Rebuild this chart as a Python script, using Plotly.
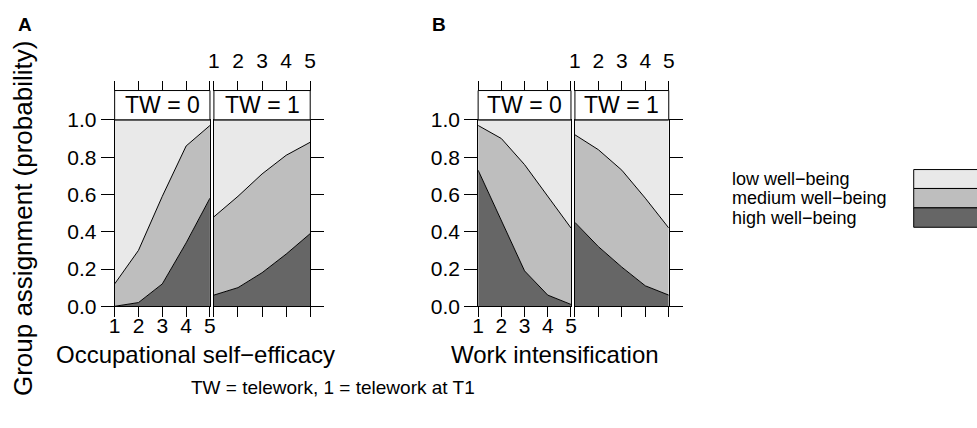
import plotly.graph_objects as go

W, H = 977, 428

# ---------------- data ----------------
x_vals = [1, 2, 3, 4, 5]
x_tick_labels = ["1", "2", "3", "4", "5"]
y_tick_vals = [0.0, 0.2, 0.4, 0.6, 0.8, 1.0]
y_tick_labels = ["0.0", "0.2", "0.4", "0.6", "0.8", "1.0"]

strip_labels = ["TW = 0", "TW = 1"]
x_titles = ["Occupational self\u2212efficacy", "Work intensification"]
panel_letters = ["A", "B"]
legend_labels = ["low well\u2212being", "medium well\u2212being", "high well\u2212being"]
caption = "TW = telework, 1 = telework at T1"
y_title = "Group assignment (probability)"

# probabilities of high / medium well-being (low = remainder)
a_tw0_high = [0.00, 0.02, 0.12, 0.34, 0.58]
a_tw0_medium = [0.12, 0.28, 0.47, 0.52, 0.39]
a_tw1_high = [0.06, 0.10, 0.18, 0.28, 0.39]
a_tw1_medium = [0.42, 0.49, 0.53, 0.53, 0.49]
b_tw0_high = [0.73, 0.46, 0.19, 0.06, 0.01]
b_tw0_medium = [0.24, 0.44, 0.57, 0.53, 0.41]
b_tw1_high = [0.45, 0.32, 0.21, 0.11, 0.06]
b_tw1_medium = [0.47, 0.52, 0.52, 0.47, 0.36]

# ---------------- style ----------------
FONT = "Liberation Sans, Arial, sans-serif"
C_LOW, C_MED, C_HIGH = "#E9E9E9", "#BEBEBE", "#666666"
TICK_FS, STRIP_FS, CAP_FS, KEY_FS = 21, 23, 19, 18
TITLE_FS = [24, 24]
YTITLE_FS = 26

def fx(px):
    return px / W

def fy(py):
    return 1 - py / H

panel_x = [(110.0, 206.5), (210.5, 308.0), (478.0, 572.0), (576.0, 671.0)]
Y_TOP, Y_BOT = 114.0, 311.0
STRIP_TOP = 83.0

panels = [
    (a_tw0_high, a_tw0_medium),
    (a_tw1_high, a_tw1_medium),
    (b_tw0_high, b_tw0_medium),
    (b_tw1_high, b_tw1_medium),
]

fig = go.Figure()
layout = dict(
    width=W, height=H, margin=dict(l=0, r=0, t=0, b=0),
    paper_bgcolor="white", plot_bgcolor="white", showlegend=False,
    font=dict(family=FONT, color="black", size=TICK_FS),
)
shapes, annotations = [], []

for i, (high, med) in enumerate(panels):
    n = i + 1
    xa = "x" if n == 1 else f"x{n}"
    ya = "y" if n == 1 else f"y{n}"
    low = [round(1 - h - m, 4) for h, m in zip(high, med)]
    for vals, col in ((high, C_HIGH), (med, C_MED), (low, C_LOW)):
        fig.add_trace(go.Scatter(
            x=x_vals, y=vals, xaxis=xa, yaxis=ya, stackgroup=f"s{n}",
            mode="lines", line=dict(color="black", width=1),
            fillcolor=col, hoverinfo="skip", showlegend=False))
    is_left = (i % 2 == 0)
    x0, x1 = panel_x[i]
    layout[f"xaxis{'' if n == 1 else n}"] = dict(
        domain=[fx(x0), fx(x1)], anchor=ya, range=[1, 5],
        tickvals=x_vals, ticktext=x_tick_labels, ticks="outside", ticklen=10,
        tickwidth=1, tickcolor="black", showticklabels=is_left,
        showline=True, linecolor="black", linewidth=1, mirror=True,
        showgrid=False, zeroline=False, tickfont=dict(size=TICK_FS),
        ticklabelstandoff=-9,
    )
    layout[f"yaxis{'' if n == 1 else n}"] = dict(
        domain=[fy(Y_BOT), fy(Y_TOP)], anchor=xa, range=[0, 1],
        side="left" if is_left else "right",
        tickvals=y_tick_vals, ticktext=y_tick_labels, ticks="outside", ticklen=13,
        tickwidth=1, tickcolor="black", showticklabels=is_left,
        showline=True, linecolor="black", linewidth=1, mirror=True,
        showgrid=False, zeroline=False, tickfont=dict(size=TICK_FS),
    )
    m = n + 4
    layout[f"xaxis{m}"] = dict(
        overlaying=xa, anchor="free", position=fy(STRIP_TOP), side="top",
        range=[1, 5], tickvals=x_vals, ticktext=x_tick_labels,
        ticks="outside", ticklen=10, tickwidth=1, tickcolor="black",
        showticklabels=not is_left, showline=False, showgrid=False,
        zeroline=False, tickfont=dict(size=TICK_FS), ticklabelstandoff=4,
    )
    fig.add_trace(go.Scatter(x=[1, 5], y=[0, 0], xaxis=f"x{m}", yaxis=ya,
                             mode="markers", marker=dict(opacity=0),
                             hoverinfo="skip", showlegend=False))
    shapes.append(dict(type="rect", xref="paper", yref="paper",
                       x0=fx(x0), x1=fx(x1), y0=fy(Y_TOP), y1=fy(STRIP_TOP),
                       fillcolor="white", line=dict(color="black", width=1)))
    annotations.append(dict(text=strip_labels[i % 2], xref="paper", yref="paper",
                            x=fx((x0 + x1) / 2), y=fy((Y_TOP + STRIP_TOP) / 2),
                            xanchor="center", yanchor="middle", showarrow=False,
                            font=dict(size=STRIP_FS)))

title_x = [192, 556]
for k in range(2):
    annotations.append(dict(text=x_titles[k], xref="paper", yref="paper",
                            x=fx(title_x[k]), y=fy(362), xanchor="center",
                            yanchor="middle", showarrow=False,
                            font=dict(size=TITLE_FS[k])))
letter_x = [19, 438]
for k in range(2):
    annotations.append(dict(text=f"<b>{panel_letters[k]}</b>", xref="paper", yref="paper",
                            x=fx(letter_x[k]), y=fy(13), xanchor="center",
                            yanchor="middle", showarrow=False, font=dict(size=19)))
annotations.append(dict(text=y_title, xref="paper", yref="paper", x=fx(17),
                        y=fy(218), xanchor="center", yanchor="middle",
                        textangle=-90, showarrow=False, font=dict(size=YTITLE_FS)))
annotations.append(dict(text=caption, xref="paper", yref="paper", x=fx(331),
                        y=fy(397), xanchor="center", yanchor="middle",
                        showarrow=False, font=dict(size=CAP_FS)))

key_rows = [(166.5, 186.5), (186.5, 207.0), (207.0, 227.5)]
key_cols = [C_LOW, C_MED, C_HIGH]
for k in range(3):
    y0, y1 = key_rows[k]
    shapes.append(dict(type="rect", xref="paper", yref="paper",
                       x0=fx(919), x1=fx(995), y0=fy(y1), y1=fy(y0),
                       fillcolor=key_cols[k], line=dict(color="black", width=1)))
    annotations.append(dict(text=legend_labels[k], xref="paper", yref="paper",
                            x=fx(733), y=fy((y0 + y1) / 2), xanchor="left",
                            yanchor="middle", showarrow=False, font=dict(size=KEY_FS)))

layout["shapes"] = shapes
layout["annotations"] = annotations
fig.update_layout(**layout)
fig.write_html("out.html", config={"displayModeBar": False},
               post_script="document.body.style.margin='0px';")
